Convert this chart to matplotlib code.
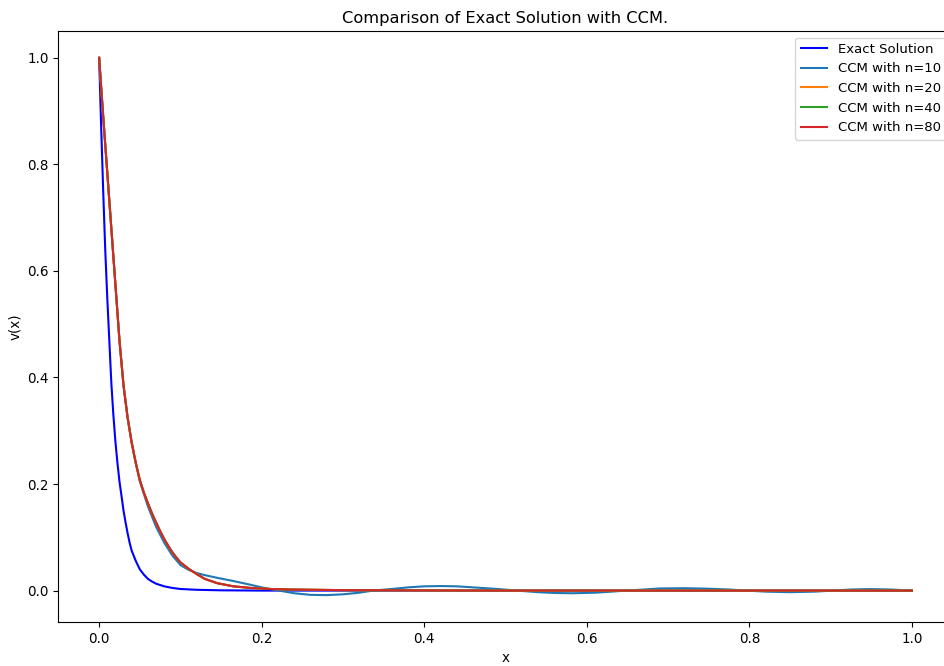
"""Exact solution vs. CCM approximations for the boundary-layer problem."""

import matplotlib

matplotlib.use("Agg")
import matplotlib.pyplot as plt
import numpy as np

# exact solution v(x)
x_exact = [0.0, 0.0025, 0.005, 0.0075, 0.01, 0.0125, 0.015, 0.0175, 0.02,
           0.0225, 0.025, 0.0275, 0.03, 0.0325, 0.035, 0.0375, 0.04, 0.045,
           0.05, 0.055, 0.06, 0.065, 0.07, 0.08, 0.09, 0.1, 0.12, 0.15,
           0.2, 0.3, 0.5, 0.7, 1.0]
v_exact = [1.0, 0.87, 0.75, 0.64, 0.55, 0.47, 0.39, 0.33, 0.28,
           0.24, 0.205, 0.178, 0.15, 0.128, 0.108, 0.09, 0.075, 0.056,
           0.040, 0.030, 0.022, 0.017, 0.013, 0.008, 0.005, 0.003, 0.0015, 0.0005,
           0.0, 0.0, 0.0, 0.0, 0.0]

# CCM with n=10
x_n10 = [0.0, 0.005, 0.01, 0.015, 0.02, 0.025, 0.03, 0.035, 0.04, 0.045,
         0.05, 0.06, 0.07, 0.08, 0.09, 0.1, 0.11, 0.12, 0.13, 0.145,
         0.165, 0.186, 0.2, 0.214, 0.24, 0.26, 0.28, 0.30, 0.32, 0.337,
         0.36, 0.38, 0.40, 0.42, 0.44, 0.46, 0.49, 0.514, 0.54, 0.56,
         0.583, 0.61, 0.63, 0.649, 0.67, 0.69, 0.72, 0.75, 0.775, 0.797,
         0.82, 0.85, 0.88, 0.903, 0.925, 0.948, 0.975, 1.0]
v_n10 = [1.0, 0.89, 0.785, 0.68, 0.575, 0.47, 0.385, 0.325, 0.278, 0.24,
         0.205, 0.158, 0.12, 0.09, 0.066, 0.048, 0.039, 0.033, 0.029, 0.024,
         0.018, 0.011, 0.006, 0.002, -0.005, -0.008, -0.0085, -0.007, -0.004, 0.0,
         0.003, 0.006, 0.008, 0.0085, 0.008, 0.006, 0.003, 0.0, -0.003, -0.0045,
         -0.005, -0.004, -0.002, 0.0, 0.002, 0.004, 0.0045, 0.0035, 0.002, 0.0,
         -0.002, -0.003, -0.002, 0.0, 0.002, 0.0028, 0.002, 0.0]

# CCM with n=20, 40, 80 (visually identical in the reference)
x_ccm = [0.0, 0.005, 0.01, 0.015, 0.02, 0.025, 0.03, 0.035, 0.04, 0.045,
         0.05, 0.055, 0.06, 0.065, 0.07, 0.075, 0.08, 0.085, 0.09, 0.095,
         0.1, 0.11, 0.12, 0.13, 0.145, 0.165, 0.186, 0.21, 0.235, 0.3,
         0.4, 0.5, 0.7, 1.0]
v_n20 = [1.0, 0.89, 0.785, 0.68, 0.575, 0.47, 0.385, 0.325, 0.278, 0.24,
         0.208, 0.184, 0.164, 0.145, 0.128, 0.112, 0.097, 0.084, 0.072, 0.062,
         0.053, 0.041, 0.031, 0.022, 0.014, 0.008, 0.005, 0.003, 0.002, 0.0008,
         0.0003, 0.0, 0.0, 0.0]
v_n40 = list(v_n20)
v_n80 = list(v_n20)

series = [
    (x_n10, v_n10, "CCM with n=10", "#1f77b4"),
    (x_ccm, v_n20, "CCM with n=20", "#ff7f0e"),
    (x_ccm, v_n40, "CCM with n=40", "#2ca02c"),
    (x_ccm, v_n80, "CCM with n=80", "#d62728"),
]

plt.rcParams["font.size"] = 9.75

fig = plt.figure(figsize=(9.45, 6.66), dpi=100)
# the reference is cropped on the right, so the axes run past the figure edge
ax = fig.add_axes([0.0619, 0.0661, 0.9461, 0.8874])

ax.plot(np.array(x_exact), np.array(v_exact), color="blue", label="Exact Solution")
for xs, vs, label, color in series:
    ax.plot(np.array(xs), np.array(vs), color=color, label=label)

ax.set_xlabel("x")
ax.set_ylabel("v(x)")
ax.set_title("Comparison of Exact Solution with CCM.")
ax.legend(loc="upper right", fontsize=9.5)

fig.savefig("out.png", dpi=100)
